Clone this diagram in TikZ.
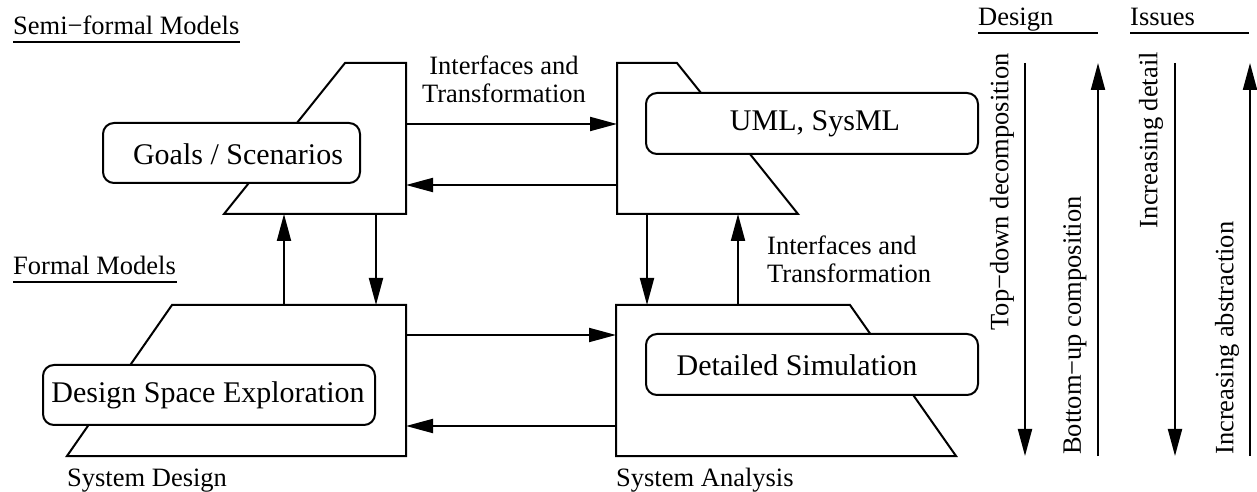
\documentclass[tikz,border=0pt]{standalone}
\usepackage{fontspec}
\setmainfont{Liberation Serif}
\usetikzlibrary{arrows.meta}
\begin{document}
\begin{tikzpicture}[x=1bp,y=-1bp,
  ln/.style={line width=2bp},
  arr/.style={ln,-{Triangle[length=27bp,width=14bp]}},
  frame/.style={ln,fill=white,line join=miter},
  bx/.style={ln,fill=white,rounded corners=11bp},
  big/.style={font=\fontsize{30bp}{34bp}\selectfont,inner sep=0pt},
  lbl/.style={font=\fontsize{26.5bp}{28bp}\selectfont,inner sep=0pt},
  rot/.style={lbl,rotate=90}
]
\useasboundingbox (0,0) rectangle (1257,492);

% frames
\draw[frame] (345,63) -- (406,63) -- (406,214) -- (224,214) -- cycle;
\draw[frame] (617,63) -- (677,63) -- (798,214) -- (617,214) -- cycle;
\draw[frame] (172,305) -- (406,305) -- (406,456) -- (67,456) -- cycle;
\draw[frame] (616,305) -- (850,305) -- (956,456) -- (616,456) -- cycle;

% boxes
\draw[bx] (103,123) rectangle (360,183);
\node[big] (gs) at (238,154) {Goals / Scenarios};
\draw[bx] (646,93) rectangle (978,154);
\node[big] (uml) at (815,124) {UML, SysML};
\draw[bx] (43,365) rectangle (375,425);
\node[big] (dse) at (208,395) {Design Space Exploration};
\draw[bx] (646,334) rectangle (978,395);
\node[big] (ds) at (797,365) {Detailed Simulation};

% coordinates for connectors
\coordinate (a1s) at (406,124); \coordinate (a1e) at (617,124);
\coordinate (a2s) at (617,185); \coordinate (a2e) at (406,185);
\coordinate (a3s) at (406,335); \coordinate (a3e) at (616,335);
\coordinate (a4s) at (616,426); \coordinate (a4e) at (406,426);
\coordinate (a5s) at (284,305); \coordinate (a5e) at (284,214);
\coordinate (a6s) at (376,214); \coordinate (a6e) at (376,305);
\coordinate (a7s) at (647,214); \coordinate (a7e) at (647,305);
\coordinate (a8s) at (738,305); \coordinate (a8e) at (738,214);

\draw[arr] (a1s) -- (a1e);
\draw[arr] (a2s) -- (a2e);
\draw[arr] (a3s) -- (a3e);
\draw[arr] (a4s) -- (a4e);
\draw[arr] (a5s) -- (a5e);
\draw[arr] (a6s) -- (a6e);
\draw[arr] (a7s) -- (a7e);
\draw[arr] (a8s) -- (a8e);

% labels
\node[lbl,anchor=base west] (semi) at (13,35) {Semi−formal Models};
\draw[ln] (13,42) -- (240,42);
\node[lbl,anchor=base west] (formal) at (13,275) {Formal Models};
\draw[ln] (13,282) -- (177,282);
\node[lbl,align=center] (if1) at (504,79) {Interfaces and\\Transformation};
\node[lbl,align=left,anchor=west] (if2) at (767,259) {Interfaces and\\Transformation};
\node[lbl,anchor=base west] (sd) at (67,486) {System Design};
\node[lbl,anchor=base west] (sa) at (616,486) {System Analysis};

% right panel
\node[lbl,anchor=base west] (des) at (978,26) {Design};
\draw[ln] (978,33) -- (1098,33);
\node[lbl,anchor=base west] (iss) at (1130,26) {Issues};
\draw[ln] (1130,33) -- (1249,33);

\coordinate (t1) at (1025,63); \coordinate (t2) at (1025,456);
\coordinate (b1) at (1098,456); \coordinate (b2) at (1098,63);
\coordinate (d1) at (1175,63); \coordinate (d2) at (1175,456);
\coordinate (e1) at (1250,456); \coordinate (e2) at (1250,63);
\draw[arr] (t1) -- (t2);
\draw[arr] (b1) -- (b2);
\draw[arr] (d1) -- (d2);
\draw[arr] (e1) -- (e2);

\node[rot,anchor=east] (tdl) at (1002,53) {Top−down decomposition};
\node[rot,anchor=west] (bul) at (1075,455) {Bottom−up composition};
\node[rot,anchor=east] (idl) at (1151,52) {Increasing detail};
\node[rot,anchor=west] (ial) at (1227,455) {Increasing abstraction};
\end{tikzpicture}
\end{document}
